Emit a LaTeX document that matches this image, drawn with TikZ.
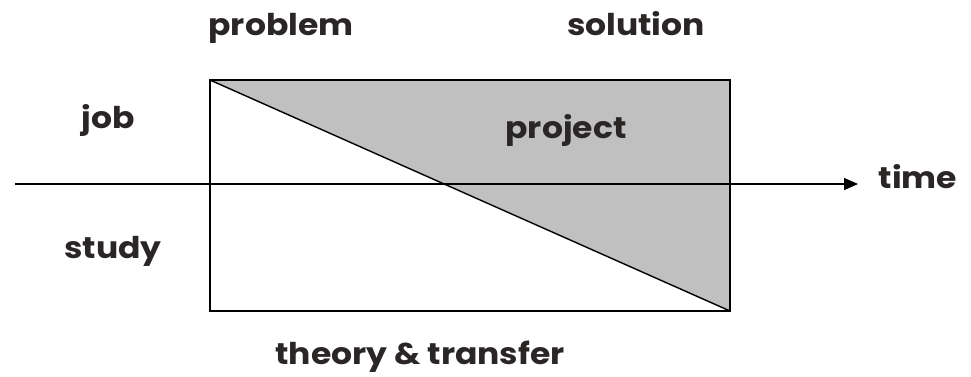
\documentclass[tikz,border=0pt]{standalone}
\usepackage{fontspec}
\setmainfont{Poppins}[UprightFont=* Bold, FakeStretch=1.1]
\usetikzlibrary{arrows.meta}
\definecolor{txt}{HTML}{2A2626}
\definecolor{greyfill}{HTML}{C0C0C0}
\begin{document}
\begin{tikzpicture}[x=1pt,y=-1pt,
  lbl/.style={font=\fontsize{30}{34}\selectfont, text=txt, inner sep=0pt, anchor=base},
  edge/.style={line width=1.4pt, black}]
\useasboundingbox (0,0) rectangle (971,376);
\coordinate (tl) at (210,80);
\coordinate (tr) at (730,80);
\coordinate (br) at (730,311);
\coordinate (bl) at (210,311);
\coordinate (axs) at (15,184);
\coordinate (axe) at (858,184);
\fill[greyfill] (tl) -- (tr) -- (br) -- cycle;
\draw[edge] (tl) -- (tr) -- (br) -- (bl) -- cycle;
\draw[edge] (tl) -- (br);
\draw[edge, -{Triangle[length=14pt,width=12pt]}] (axs) -- (axe);
\node[lbl] (problem) at (281,35) {problem};
\node[lbl] (solution) at (636,35) {solution};
\node[lbl] (job) at (108,128) {job};
\node[lbl] (project) at (566,138) {project};
\node[lbl] (study) at (113,258) {study};
\node[lbl] (time) at (918,188) {time};
\node[lbl] (theory) at (420,364) {theory \& transfer};
\end{tikzpicture}
\end{document}
